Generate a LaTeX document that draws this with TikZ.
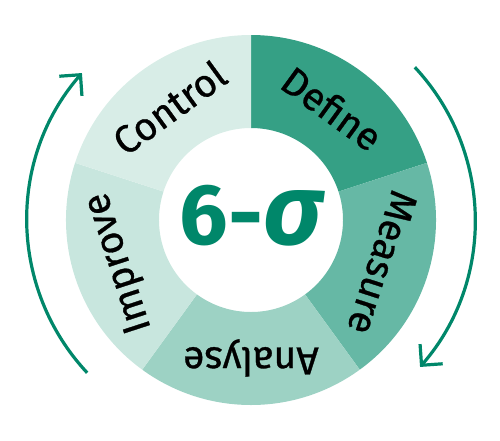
\documentclass[tikz,border=0pt]{standalone}
\usepackage{fontspec}
\setmainfont{Fira Sans}
\newfontfamily\labelfont[FakeBold=0.8]{Fira Sans}
\usetikzlibrary{arrows.meta}
\definecolor{cDefine}{HTML}{35A085}
\definecolor{cMeasure}{HTML}{66B8A5}
\definecolor{cAnalyse}{HTML}{9DD2C4}
\definecolor{cImprove}{HTML}{C8E6DE}
\definecolor{cControl}{HTML}{D8EDE7}
\definecolor{cGreen}{HTML}{00876A}
\tikzset{
  seglabel/.style={font=\labelfont\fontsize{39}{40}\selectfont, text=black, inner sep=0pt, anchor=center},
  cyclearrow/.style={draw=cGreen, line width=3.2pt, -{Straight Barb[length=15pt,width=30pt,line width=3.2pt]}},
}
\newcommand{\ringsector}[3]{%
  \fill[#3] (#1:185) arc[start angle=#1,end angle=#2,radius=185] -- (#2:92) arc[start angle=#2,end angle=#1,radius=92] -- cycle;}
\begin{document}
\begin{tikzpicture}[x=1pt,y=1pt]
\useasboundingbox (-251,-220) rectangle (249,220);
\ringsector{90}{18}{cDefine}
\ringsector{18}{-54}{cMeasure}
\ringsector{-54}{-126}{cAnalyse}
\ringsector{-126}{-198}{cImprove}
\ringsector{162}{90}{cControl}
\node[seglabel, rotate=-36] (define) at (54:138) {Define};
\node[seglabel, rotate=-108] (measure) at (-18:138) {Measure};
\node[seglabel, rotate=-180] (analyse) at (-90:138) {Analyse};
\node[seglabel, rotate=108] (improve) at (-162:138) {Improve};
\node[seglabel, rotate=36] (control) at (126:139) {Control};
\node[text=cGreen, inner sep=0pt] (sigma) at (0,4) {\fontsize{86}{88}\selectfont\bfseries 6-\fontsize{100}{100}\selectfont\itshape σ};
\draw[cyclearrow] (43:224) arc[start angle=43,end angle=-41,radius=224];
\draw[cyclearrow] (223:224) arc[start angle=223,end angle=139,radius=224];
\end{tikzpicture}
\end{document}
